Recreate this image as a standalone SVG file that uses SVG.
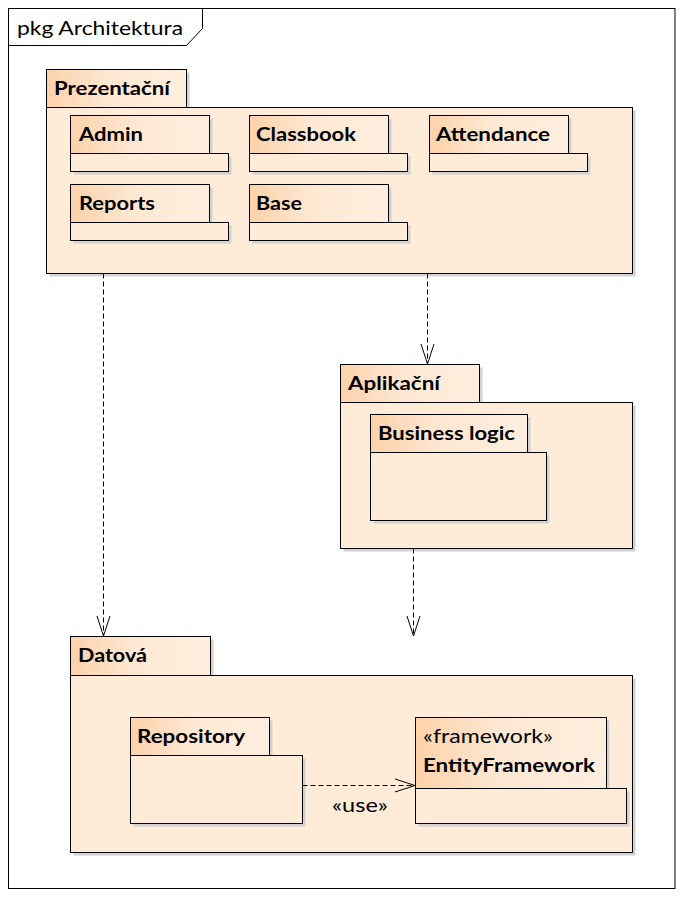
<svg xmlns="http://www.w3.org/2000/svg" width="683" height="897" viewBox="0 0 683 897">
<defs>
<linearGradient id="tabg" x1="0" y1="0" x2="1" y2="0">
<stop offset="0" stop-color="#FCD2AA"/>
<stop offset="0.45" stop-color="#FEE8D3"/>
<stop offset="1" stop-color="#FFEEDF"/>
</linearGradient>
<marker id="open" markerUnits="userSpaceOnUse" markerWidth="26" markerHeight="18" viewBox="-23 -9 26 18" refX="0" refY="0" orient="auto">
<path class="head" d="M-20,-6.5 L0,0 L-20,6.5"/>
</marker>
<style>
.frame{fill:#fff;stroke:#000;stroke-width:1}
.sh{fill:#D2D2D2}
.tab{fill:url(#tabg);stroke:#000;stroke-width:1}
.body{fill:#FEEBD8;stroke:#000;stroke-width:1}
.name{font-family:Lato,"Open Sans",sans-serif;font-weight:bold;font-size:18.5px;fill:#000}
.norm{font-family:Lato,"Open Sans",sans-serif;font-weight:normal;font-size:18.5px;fill:#000}
.dep{fill:none;stroke:#000;stroke-width:1;stroke-dasharray:5,3}
.head{fill:none;stroke:#000;stroke-width:1;stroke-dasharray:none}
</style>
</defs>
<rect width="683" height="897" fill="#fff"/>
<g id="frame">
<rect class="frame" x="8.5" y="8.5" width="666.5" height="880"/>
<path d="M8.5,45.5 L186.5,45.5 L202.5,28.5 L202.5,8.5" fill="none" stroke="#000"/>
<text class="norm" x="17" y="35" textLength="166" lengthAdjust="spacingAndGlyphs">pkg Architektura</text>
</g>
<g id="prezentacni">
<rect class="sh" x="49.5" y="72.5" width="140" height="38"/>
<rect class="sh" x="49.5" y="110.5" width="586" height="166"/>
<rect class="tab" x="46.5" y="69.5" width="140" height="38"/>
<rect class="body" x="46.5" y="107.5" width="586" height="166"/>
<text class="name" x="54" y="95" textLength="116" lengthAdjust="spacingAndGlyphs">Prezentační</text>
</g>
<g id="admin">
<rect class="sh" x="73.5" y="118.5" width="139" height="38"/>
<rect class="sh" x="73.5" y="156.5" width="158" height="18"/>
<rect class="tab" x="70.5" y="115.5" width="139" height="38"/>
<rect class="body" x="70.5" y="153.5" width="158" height="18"/>
<text class="name" x="79" y="141" textLength="64" lengthAdjust="spacingAndGlyphs">Admin</text>
</g>
<g id="classbook">
<rect class="sh" x="252.5" y="118.5" width="139" height="38"/>
<rect class="sh" x="252.5" y="156.5" width="158" height="18"/>
<rect class="tab" x="249.5" y="115.5" width="139" height="38"/>
<rect class="body" x="249.5" y="153.5" width="158" height="18"/>
<text class="name" x="256" y="141" textLength="100" lengthAdjust="spacingAndGlyphs">Classbook</text>
</g>
<g id="attendance">
<rect class="sh" x="432.5" y="118.5" width="139" height="38"/>
<rect class="sh" x="432.5" y="156.5" width="158" height="18"/>
<rect class="tab" x="429.5" y="115.5" width="139" height="38"/>
<rect class="body" x="429.5" y="153.5" width="158" height="18"/>
<text class="name" x="436" y="141" textLength="114" lengthAdjust="spacingAndGlyphs">Attendance</text>
</g>
<g id="reports">
<rect class="sh" x="73.5" y="187.5" width="139" height="38"/>
<rect class="sh" x="73.5" y="225.5" width="158" height="18"/>
<rect class="tab" x="70.5" y="184.5" width="139" height="38"/>
<rect class="body" x="70.5" y="222.5" width="158" height="18"/>
<text class="name" x="79" y="210" textLength="76" lengthAdjust="spacingAndGlyphs">Reports</text>
</g>
<g id="base">
<rect class="sh" x="252.5" y="187.5" width="139" height="38"/>
<rect class="sh" x="252.5" y="225.5" width="158" height="18"/>
<rect class="tab" x="249.5" y="184.5" width="139" height="38"/>
<rect class="body" x="249.5" y="222.5" width="158" height="18"/>
<text class="name" x="256" y="210" textLength="46" lengthAdjust="spacingAndGlyphs">Base</text>
</g>
<g id="aplikacni">
<rect class="sh" x="343.5" y="367.5" width="139" height="38"/>
<rect class="sh" x="343.5" y="405.5" width="292" height="146"/>
<rect class="tab" x="340.5" y="364.5" width="139" height="38"/>
<rect class="body" x="340.5" y="402.5" width="292" height="146"/>
<text class="name" x="348" y="390" textLength="92" lengthAdjust="spacingAndGlyphs">Aplikační</text>
</g>
<g id="businesslogic">
<rect class="sh" x="373.5" y="417.5" width="157" height="38"/>
<rect class="sh" x="373.5" y="455.5" width="176" height="68"/>
<rect class="tab" x="370.5" y="414.5" width="157" height="38"/>
<rect class="body" x="370.5" y="452.5" width="176" height="68"/>
<text class="name" x="378" y="440" textLength="137" lengthAdjust="spacingAndGlyphs">Business logic</text>
</g>
<g id="datova">
<rect class="sh" x="73.5" y="639.5" width="140" height="39"/>
<rect class="sh" x="73.5" y="678.5" width="562" height="177"/>
<rect class="tab" x="70.5" y="636.5" width="140" height="39"/>
<rect class="body" x="70.5" y="675.5" width="562" height="177"/>
<text class="name" x="78" y="662" textLength="69" lengthAdjust="spacingAndGlyphs">Datová</text>
</g>
<g id="repository">
<rect class="sh" x="133.5" y="720.5" width="139" height="38"/>
<rect class="sh" x="133.5" y="758.5" width="172" height="68"/>
<rect class="tab" x="130.5" y="717.5" width="139" height="38"/>
<rect class="body" x="130.5" y="755.5" width="172" height="68"/>
<text class="name" x="137" y="743" textLength="108" lengthAdjust="spacingAndGlyphs">Repository</text>
</g>
<g id="entityframework">
<rect class="sh" x="418.5" y="720.5" width="191" height="71"/>
<rect class="sh" x="418.5" y="791.5" width="211" height="35"/>
<rect class="tab" x="415.5" y="717.5" width="191" height="71"/>
<rect class="body" x="415.5" y="788.5" width="211" height="35"/>
<text class="norm" x="423" y="743" textLength="130" lengthAdjust="spacingAndGlyphs">«framework»</text>
<text class="name" x="423" y="772" textLength="172" lengthAdjust="spacingAndGlyphs">EntityFramework</text>
</g>
<g id="connectors">
<path class="dep" d="M103.5,273.5 L103.5,636" marker-end="url(#open)"/>
<path class="dep" d="M427.5,273.5 L427.5,364" marker-end="url(#open)"/>
<path class="dep" d="M413.5,548.5 L413.5,636" marker-end="url(#open)"/>
<path class="dep" d="M302.5,785.5 L415,785.5" marker-end="url(#open)"/>
<text class="norm" x="332" y="812" textLength="56" lengthAdjust="spacingAndGlyphs">«use»</text>
</g>
</svg>
